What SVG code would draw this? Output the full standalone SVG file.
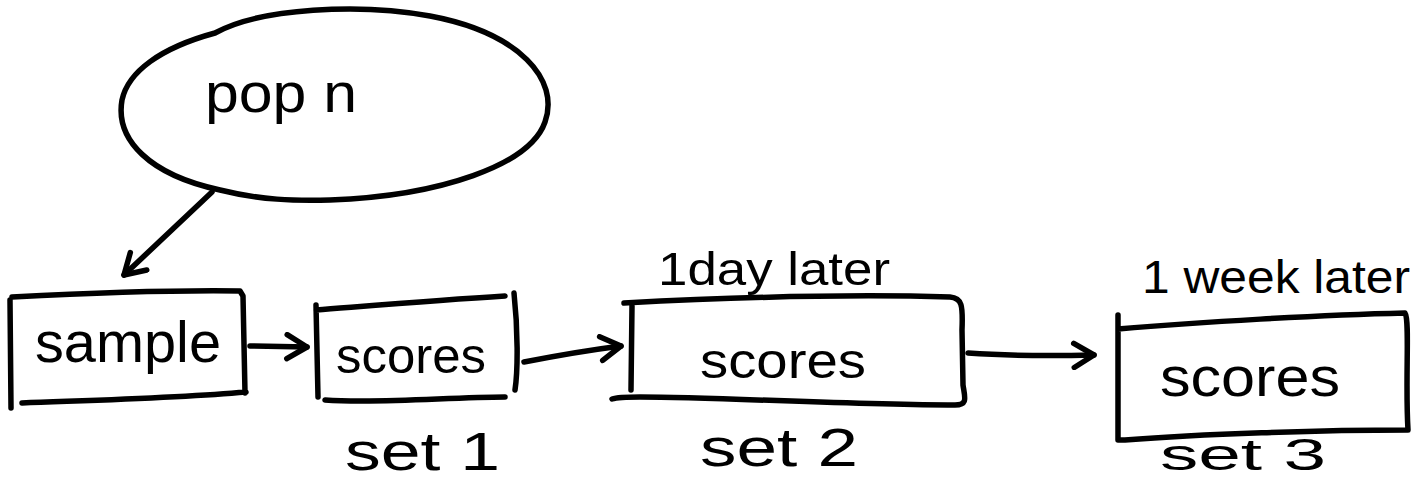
<svg xmlns="http://www.w3.org/2000/svg" width="1424" height="482" viewBox="0 0 1424 482">
<defs>
<style>
.s{fill:none;stroke:#000;stroke-width:5.5;stroke-linecap:round;stroke-linejoin:round}
.t{font-family:"Liberation Sans",Arial,sans-serif;fill:#000}
</style>
<marker id="ah" viewBox="0 0 30 30" refX="26" refY="15" markerWidth="30" markerHeight="30" markerUnits="userSpaceOnUse" orient="auto">
<path d="M6,3 L26,15 L6,27" fill="none" stroke="#000" stroke-width="5.5" stroke-linecap="round" stroke-linejoin="round"/>
</marker>
</defs>
<rect width="1424" height="482" fill="#fff"/>
<g id="popn">
<path class="s" d="M215,33 C260,8 360,3 430,16 C520,33 560,80 545,122 C530,165 440,196 330,200 C295,201 260,200 220,190 C150,175 115,140 122,100 C128,72 160,48 215,33 Z"/>
<text class="t" x="205" y="112" font-size="56" textLength="152" lengthAdjust="spacingAndGlyphs">pop n</text>
</g>
<g id="sample">
<path class="s" d="M12,297 C90,293 170,290 240,291 L243,296 L245,393 M10,300 L11,408 M22,403 C100,400 180,398 246,392"/>
<text class="t" x="35" y="362" font-size="58" textLength="186" lengthAdjust="spacingAndGlyphs">sample</text>
</g>
<g id="scores1">
<path class="s" d="M316,310 C380,305 440,300 505,296 M316,305 L318,397 M514,293 C518,330 518,370 515,390 M325,400 C380,404 450,397 505,397"/>
<text class="t" x="336" y="373" font-size="50" textLength="150" lengthAdjust="spacingAndGlyphs">scores</text>
<text class="t" x="345" y="470" font-size="54" textLength="155" lengthAdjust="spacingAndGlyphs">set 1</text>
</g>
<g id="scores2">
<path class="s" d="M624,303 C720,298 850,294 950,297 C962,298 963,305 962,330 L963,385 C965,398 968,405 955,405 C850,405 720,397 640,397 C625,397 615,398 612,399 M632,306 L631,390"/>
<text class="t" x="658" y="285" font-size="46" textLength="232" lengthAdjust="spacingAndGlyphs">1day later</text>
<text class="t" x="700" y="378" font-size="50" textLength="166" lengthAdjust="spacingAndGlyphs">scores</text>
<text class="t" x="700" y="466" font-size="54" textLength="158" lengthAdjust="spacingAndGlyphs">set 2</text>
</g>
<g id="scores3">
<path class="s" d="M1118,329 C1200,322 1320,315 1405,313 C1410,320 1405,380 1408,430 C1320,430 1200,434 1125,440 L1118,440 L1118,315"/>
<text class="t" x="1142" y="293" font-size="46" textLength="268" lengthAdjust="spacingAndGlyphs">1 week later</text>
<text class="t" x="1160" y="396" font-size="56" textLength="180" lengthAdjust="spacingAndGlyphs">scores</text>
<text class="t" x="1160" y="470" font-size="44" textLength="166" lengthAdjust="spacingAndGlyphs">set 3</text>
</g>
<g id="connectors">
<path class="s" d="M212,192 L124,275" marker-end="url(#ah)"/>
<path class="s" d="M250,346 L307,347" marker-end="url(#ah)"/>
<path class="s" d="M524,362 C560,355 590,350 621,346" marker-end="url(#ah)"/>
<path class="s" d="M968,353 C1010,356 1050,356 1094,355" marker-end="url(#ah)"/>
</g>
</svg>
